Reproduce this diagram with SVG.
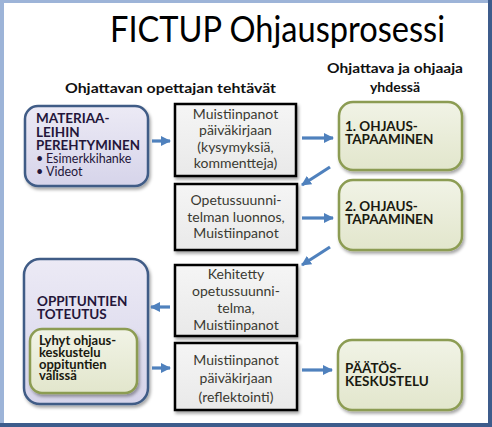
<svg xmlns="http://www.w3.org/2000/svg" width="492" height="427" viewBox="0 0 492 427">
<defs>
<linearGradient id="gBlue" x1="0" y1="0" x2="0" y2="1">
<stop offset="0" stop-color="#eceaf5"/><stop offset="1" stop-color="#d6d4ea"/>
</linearGradient>
<linearGradient id="gGreen" x1="0" y1="0" x2="0" y2="1">
<stop offset="0" stop-color="#f1f3e6"/><stop offset="1" stop-color="#e2e6cc"/>
</linearGradient>
<linearGradient id="gGray" x1="0" y1="0" x2="0" y2="1">
<stop offset="0" stop-color="#f5f5f5"/><stop offset="1" stop-color="#e9e9e9"/>
</linearGradient>
<filter id="shadow" x="-10%" y="-10%" width="125%" height="130%">
<feDropShadow dx="1.5" dy="2.5" stdDeviation="1.8" flood-color="#000" flood-opacity="0.35"/>
</filter>
<marker id="ah" markerUnits="userSpaceOnUse" markerWidth="10" markerHeight="10" viewBox="0 0 10 10" refX="9" refY="5" orient="auto">
<path d="M0,0 L10,5 L0,10 Z" fill="#4f81bd"/>
</marker>
<style>
.t{font-family:Lato,"Liberation Sans",sans-serif;fill:#000}
.title{font-size:36px}
.hd{font-size:14px;font-weight:bold;text-anchor:middle;fill:#111}
.bl{font-size:13.5px;font-weight:bold;fill:#24163a}
.bul{font-size:12.5px;fill:#24163a}
.gr{font-size:14px;text-anchor:middle;fill:#3a3a32}
.gn{font-size:13.5px;font-weight:bold;fill:#1a1a10}
.gs{font-size:13px;font-weight:bold;fill:#1a1a10}
.blueBox{fill:url(#gBlue);stroke:#3f5b86;stroke-width:2.5}
.greenBox{fill:url(#gGreen);stroke:#8c9c52;stroke-width:2.5}
.grayBox{fill:url(#gGray);stroke:#000;stroke-width:2.5}
.arr{stroke:#4f81bd;stroke-width:3.2;fill:none}
</style>
</defs>
<rect x="0" y="0" width="492" height="427" fill="#3d5c8c"/>
<rect x="0" y="0" width="488" height="423" fill="#9db4d8"/>
<rect x="4" y="3" width="484" height="420" fill="#ffffff"/>

<text class="t title" x="277.5" y="42" text-anchor="middle" textLength="335" lengthAdjust="spacingAndGlyphs">FICTUP Ohjausprosessi</text>
<text class="t hd" x="170.5" y="93" textLength="211" lengthAdjust="spacingAndGlyphs">Ohjattavan opettajan tehtävät</text>
<text class="t hd" x="395" y="73" textLength="136" lengthAdjust="spacingAndGlyphs">Ohjattava ja ohjaaja</text>
<text class="t hd" x="395" y="92">yhdessä</text>

<g id="materiaalit">
<rect class="blueBox" x="25" y="106" width="123" height="80" rx="13" filter="url(#shadow)"/>
<text class="t bl" x="36" y="123">MATERIAA-</text>
<text class="t bl" x="36" y="137">LEIHIN</text>
<text class="t bl" x="36" y="150" textLength="104" lengthAdjust="spacingAndGlyphs">PEREHTYMINEN</text>
<text class="t bul" x="36" y="163">•</text>
<text class="t bul" x="46" y="163">Esimerkkihanke</text>
<text class="t bul" x="36" y="176">•</text>
<text class="t bul" x="46" y="176">Videot</text>
</g>

<g id="muistiinpanot1">
<rect class="grayBox" x="175" y="104" width="121" height="72" filter="url(#shadow)"/>
<text class="t gr" x="235.5" y="119">Muistiinpanot</text>
<text class="t gr" x="235.5" y="135">päiväkirjaan</text>
<text class="t gr" x="235.5" y="152">(kysymyksiä,</text>
<text class="t gr" x="235.5" y="168">kommentteja)</text>
</g>

<g id="ohjaus1">
<rect class="greenBox" x="339" y="102" width="123" height="68" rx="14" filter="url(#shadow)"/>
<text class="t gn" x="345" y="131">1. OHJAUS-</text>
<text class="t gn" x="345" y="144">TAPAAMINEN</text>
</g>

<g id="luonnos">
<rect class="grayBox" x="175" y="184" width="122" height="66" filter="url(#shadow)"/>
<text class="t gr" x="236" y="205">Opetussuunni-</text>
<text class="t gr" x="236" y="222">telman luonnos,</text>
<text class="t gr" x="236" y="238">Muistiinpanot</text>
</g>

<g id="ohjaus2">
<rect class="greenBox" x="339" y="180" width="123" height="70" rx="14" filter="url(#shadow)"/>
<text class="t gn" x="345" y="211">2. OHJAUS-</text>
<text class="t gn" x="345" y="224">TAPAAMINEN</text>
</g>

<g id="kehitetty">
<rect class="grayBox" x="175" y="265" width="122" height="71" filter="url(#shadow)"/>
<text class="t gr" x="236" y="279">Kehitetty</text>
<text class="t gr" x="236" y="296">opetussuunni-</text>
<text class="t gr" x="236" y="313">telma,</text>
<text class="t gr" x="236" y="330">Muistiinpanot</text>
</g>

<g id="toteutus">
<rect class="blueBox" x="24" y="259" width="124" height="145" rx="16" filter="url(#shadow)"/>
<text class="t bl" x="37" y="306">OPPITUNTIEN</text>
<text class="t bl" x="37" y="319">TOTEUTUS</text>
<rect class="greenBox" x="30" y="329" width="107" height="64" rx="12" filter="url(#shadow)"/>
<text class="t gs" x="39" y="345">Lyhyt ohjaus-</text>
<text class="t gs" x="39" y="357">keskustelu</text>
<text class="t gs" x="39" y="369">oppituntien</text>
<text class="t gs" x="39" y="380">välissä</text>
</g>

<g id="muistiinpanot2">
<rect class="grayBox" x="175" y="343" width="122" height="67" filter="url(#shadow)"/>
<text class="t gr" x="236" y="365">Muistiinpanot</text>
<text class="t gr" x="236" y="383">päiväkirjaan</text>
<text class="t gr" x="236" y="402">(reflektointi)</text>
</g>

<g id="paatos">
<rect class="greenBox" x="338" y="340" width="124" height="70" rx="14" filter="url(#shadow)"/>
<text class="t gn" x="345" y="373">PÄÄTÖS-</text>
<text class="t gn" x="345" y="386">KESKUSTELU</text>
</g>

<g id="connectors">
<line class="arr" x1="152" y1="141" x2="170" y2="141" marker-end="url(#ah)"/>
<line class="arr" x1="302" y1="138" x2="333" y2="138" marker-end="url(#ah)"/>
<line class="arr" x1="330" y1="167" x2="302" y2="185" marker-end="url(#ah)"/>
<line class="arr" x1="302" y1="218" x2="333" y2="218" marker-end="url(#ah)"/>
<line class="arr" x1="330" y1="247" x2="302" y2="265" marker-end="url(#ah)"/>
<line class="arr" x1="170" y1="307" x2="151" y2="307" marker-end="url(#ah)"/>
<line class="arr" x1="152" y1="368" x2="170" y2="368" marker-end="url(#ah)"/>
<line class="arr" x1="302" y1="370" x2="332" y2="370" marker-end="url(#ah)"/>
</g>
</svg>
